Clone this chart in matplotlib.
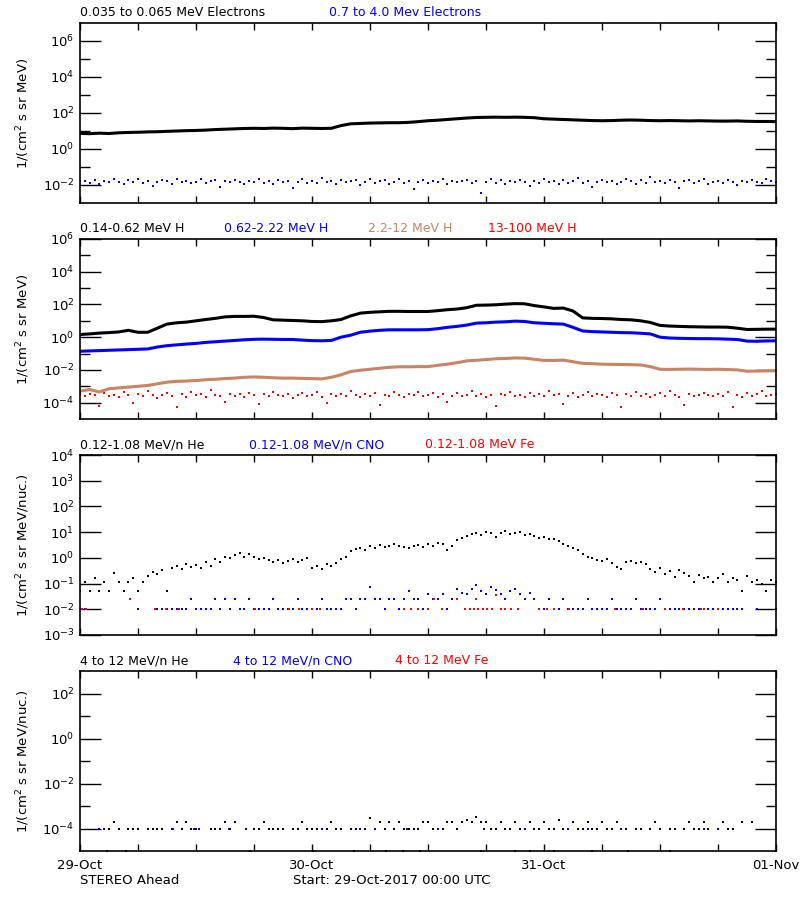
import numpy as np
import matplotlib.pyplot as plt
from matplotlib.ticker import FixedLocator, NullFormatter, NullLocator

nan = np.nan

# Tiempo en horas desde 29-Oct-2017 00:00 UTC
horas = np.arange(73)              # datos horarios
horas_media = np.arange(145) / 2.0  # datos cada media hora

# Panel 1: electrones (log10 del flujo)
elec_bajo = [0.87, 0.85, 0.88, 0.86, 0.90, 0.92, 0.93, 0.95, 0.96, 0.98, 1.00, 1.02,
             1.03, 1.05, 1.08, 1.10, 1.12, 1.14, 1.15, 1.14, 1.16, 1.15, 1.13, 1.16,
             1.15, 1.14, 1.15, 1.30, 1.40, 1.42, 1.44, 1.45, 1.46, 1.46, 1.48, 1.52,
             1.57, 1.60, 1.64, 1.68, 1.72, 1.75, 1.76, 1.77, 1.76, 1.77, 1.76, 1.74,
             1.68, 1.66, 1.64, 1.62, 1.60, 1.58, 1.57, 1.58, 1.60, 1.61, 1.60, 1.58,
             1.57, 1.58, 1.57, 1.56, 1.57, 1.56, 1.55, 1.55, 1.56, 1.54, 1.53, 1.53,
             1.52]
elec_alto = [-1.80, -1.75, -1.88, -1.70, -1.92, -1.78, -1.83, -1.65, -1.86, -1.95, -1.74, -1.81,
             -1.69, -1.90, -1.77, -2.05, -1.84, -1.72, -1.79, -1.93, -1.68, -1.85, -1.76, -1.89,
             -1.82, -1.64, -1.91, -1.80, -1.73, -2.10, -1.78, -1.86, -1.70, -1.84, -1.97, -1.75,
             -1.81, -1.66, -1.88, -1.79, -1.94, -1.72, -1.85, -1.77, -2.15, -1.83, -1.69, -1.87,
             -1.76, -1.90, -1.62, -1.82, -1.78, -1.95, -1.71, -1.86, -1.80, -1.74, -2.00, -1.83,
             -1.68, -1.88, -1.79, -1.73, -1.92, -1.81, -1.65, -1.87, -1.76, -2.20, -1.84, -1.70,
             -1.89, -1.78, -1.82, -1.67, -1.94, -1.75, -1.86, -1.80, -1.72, -1.91, -1.77, -2.45,
             -1.83, -1.69, -1.88, -1.74, -1.96, -1.79, -1.85, -1.71, -1.82, -2.08, -1.76, -1.90,
             -1.66, -1.84, -1.78, -1.93, -1.73, -1.87, -1.80, -1.62, -1.89, -1.75, -2.12, -1.81,
             -1.70, -1.86, -1.77, -1.92, -1.83, -1.68, -1.79, -1.95, -1.74, -1.88, -1.58, -1.82,
             -1.76, -1.91, -1.71, -1.85, -2.18, -1.80, -1.73, -1.87, -1.78, -1.67, -1.93, -1.84,
             -1.75, -1.89, -1.70, -1.81, -1.98, -1.77, -1.86, -1.72, -1.83, -1.90, -1.64, -1.79,
             -1.85]

# Panel 2: protones
h_014 = [0.16, 0.20, 0.25, 0.28, 0.32, 0.42, 0.30, 0.30, 0.55, 0.80, 0.88, 0.92,
         1.00, 1.08, 1.15, 1.24, 1.27, 1.27, 1.28, 1.20, 1.06, 1.04, 1.02, 1.00,
         0.96, 0.95, 1.00, 1.08, 1.30, 1.47, 1.52, 1.55, 1.58, 1.58, 1.57, 1.57,
         1.57, 1.62, 1.68, 1.72, 1.80, 1.95, 1.96, 1.98, 2.02, 2.05, 2.04, 1.93,
         1.85, 1.76, 1.78, 1.60, 1.18, 1.15, 1.14, 1.12, 1.08, 1.06, 1.00, 0.90,
         0.72, 0.68, 0.66, 0.64, 0.63, 0.62, 0.62, 0.61, 0.55, 0.47, 0.48, 0.49,
         0.49]
h_062 = [-0.86, -0.84, -0.82, -0.80, -0.78, -0.76, -0.74, -0.72, -0.60, -0.52, -0.47, -0.42,
         -0.38, -0.32, -0.28, -0.24, -0.20, -0.16, -0.13, -0.12, -0.13, -0.14, -0.14, -0.18,
         -0.21, -0.22, -0.20, 0.00, 0.12, 0.30, 0.37, 0.42, 0.45, 0.45, 0.45, 0.45,
         0.46, 0.52, 0.60, 0.66, 0.74, 0.86, 0.88, 0.92, 0.94, 0.98, 0.96, 0.88,
         0.85, 0.82, 0.80, 0.60, 0.38, 0.34, 0.32, 0.30, 0.28, 0.27, 0.24, 0.20,
         0.00, -0.05, -0.07, -0.08, -0.09, -0.09, -0.10, -0.12, -0.14, -0.24, -0.25, -0.23,
         -0.22]
h_22 = [-3.30, -3.20, -3.35, -3.15, -3.10, -3.05, -3.00, -2.95, -2.85, -2.75, -2.70, -2.68,
        -2.65, -2.60, -2.57, -2.53, -2.50, -2.45, -2.43, -2.45, -2.48, -2.50, -2.50, -2.52,
        -2.53, -2.55, -2.45, -2.30, -2.10, -2.02, -1.96, -1.90, -1.84, -1.81, -1.81, -1.80,
        -1.80, -1.72, -1.65, -1.56, -1.45, -1.41, -1.37, -1.32, -1.30, -1.27, -1.28, -1.35,
        -1.42, -1.42, -1.40, -1.50, -1.60, -1.62, -1.65, -1.66, -1.67, -1.68, -1.70, -1.80,
        -1.96, -1.97, -1.96, -1.95, -1.96, -1.97, -1.96, -1.98, -2.00, -2.08, -2.07, -2.06,
        -2.05]
h_13 = [-3.50, -3.62, -3.45, -3.55, -4.20, -3.40, -3.58, -3.52, -3.66, -3.35, -3.55, -4.00,
        -3.48, -3.60, -3.30, -3.56, -3.70, -3.52, -3.44, -3.58, -4.25, -3.50, -3.63, -3.38,
        -3.55, -3.47, -3.66, -3.25, -3.53, -3.60, -3.95, -3.45, -3.57, -3.50, -3.68, -3.40,
        -3.54, -4.10, -3.48, -3.62, -3.33, -3.55, -3.58, -3.46, -3.70, -3.52, -3.42, -3.60,
        -3.56, -3.36, -3.64, -4.05, -3.50, -3.57, -3.45, -3.62, -3.28, -3.54, -3.66, -3.49,
        -3.58, -3.43, -4.15, -3.55, -3.61, -3.38, -3.52, -3.67, -3.47, -3.56, -3.32, -3.60,
        -3.53, -3.44, -3.65, -3.50, -3.98, -3.57, -3.40, -3.62, -3.55, -3.30, -3.58, -3.48,
        -3.63, -3.52, -4.22, -3.45, -3.56, -3.36, -3.60, -3.54, -3.68, -3.42, -3.57, -3.50,
        -3.62, -3.27, -3.55, -3.47, -4.08, -3.58, -3.44, -3.64, -3.53, -3.38, -3.60, -3.49,
        -3.56, -3.66, -3.41, -3.55, -4.25, -3.50, -3.62, -3.35, -3.57, -3.46, -3.63, -3.52,
        -3.44, -3.58, -3.31, -3.55, -3.67, -4.12, -3.48, -3.60, -3.53, -3.40, -3.56, -3.62,
        -3.47, -3.58, -3.36, -4.28, -3.54, -3.65, -3.43, -3.57, -3.50, -3.30, -3.61, -3.55,
        -3.48]

# Panel 3: iones 0.12-1.08 MeV/n (cada media hora)
he_bajo = [-1.27, -0.95, -1.27, -0.80, -1.27, -0.95, -1.27, -0.60, -0.95, -1.27, -0.95, -0.80,
           -1.27, -0.95, -0.70, -0.55, -0.62, -0.48, -1.27, -0.40, -0.30, -0.45, -0.22, -0.35,
           -0.28, -0.40, -0.18, -0.30, -0.05, -0.15, 0.05, -0.02, 0.12, 0.18, 0.05, 0.15,
           0.02, -0.05, 0.00, -0.10, -0.15, -0.08, -0.20, -0.12, -0.05, -0.15, -0.10, -0.02,
           -0.40, -0.30, -0.45, -0.25, -0.30, -0.20, -0.05, 0.05, 0.25, 0.35, 0.38, 0.32,
           0.45, 0.40, 0.50, 0.42, 0.46, 0.52, 0.48, 0.42, 0.40, 0.47, 0.50, 0.44,
           0.55, 0.48, 0.58, 0.52, 0.32, 0.45, 0.70, 0.78, 0.85, 0.92, 0.98, 0.90,
           1.02, 0.95, 0.80, 0.98, 1.05, 0.92, 0.96, 1.00, 0.88, 0.94, 0.85, 0.78,
           0.82, 0.75, 0.72, 0.66, 0.55, 0.48, 0.40, 0.30, 0.15, 0.05, 0.00, -0.08,
           -0.12, -0.05, -0.20, -0.35, -0.45, -0.18, -0.12, -0.20, -0.15, -0.25, -0.45, -0.55,
           -0.40, -0.62, -0.50, -0.75, -0.48, -0.60, -0.70, -0.95, -0.65, -0.80, -0.75, -0.95,
           -0.80, -0.62, -0.92, -0.78, -0.85, -1.27, -0.72, -0.95, -0.88, -1.00, -1.27, -0.85,
           -0.95]
cno_bajo = [-2.0, -2.0, nan, nan, nan, nan, nan, nan, nan, nan, nan, nan,
            -2.0, nan, nan, nan, -2.0, -2.0, -2.0, -2.0, -2.0, -2.0, -2.0, -1.6,
            -2.0, -2.0, -2.0, -2.0, -1.6, -2.0, -1.6, -2.0, -1.6, -2.0, -2.0, -1.6,
            -2.0, -2.0, -2.0, -2.0, -1.6, -2.0, -2.0, -2.0, -2.0, -1.6, -2.0, -2.0,
            -2.0, -2.0, -1.6, -2.0, -2.0, -2.0, -2.0, -1.6, -1.6, -2.0, -1.6, -1.6,
            -1.15, -1.6, -1.6, -2.0, -1.6, -1.6, -2.0, -1.6, -1.3, -1.6, -1.6, -2.0,
            -1.4, -1.6, -1.6, -1.4, -2.0, -1.6, -1.2, -1.35, -1.4, -1.2, -1.05, -1.3,
            -1.4, -1.15, -1.25, -1.4, -1.6, -1.3, -1.2, -1.4, -1.6, -1.35, -1.6, -2.0,
            -2.0, -1.6, -2.0, -2.0, -1.6, -2.0, -2.0, -2.0, -2.0, -1.6, -2.0, -2.0,
            -2.0, -2.0, -1.6, -2.0, -2.0, -2.0, -2.0, -1.6, -2.0, -2.0, -2.0, -2.0,
            -1.6, -2.0, -2.0, -2.0, -2.0, -2.0, -2.0, -2.0, -2.0, -2.0, -2.0, -2.0,
            -2.0, -2.0, -2.0, -2.0, -2.0, -2.0, nan, nan, -2.0, nan, nan, nan,
            -2.0]
fe_bajo_horas = [0.2, 0.6, 5.2, 7.8, 8.9, 10.2, 18.1, 21.6, 22.7, 24.0, 24.8, 33.5,
                 34.2, 35.0, 36.0, 36.6, 37.4, 39.0, 39.8, 40.3, 40.8, 41.0, 41.2, 41.7,
                 42.1, 42.6, 43.0, 43.5, 44.0, 44.6, 45.3, 47.5, 48.3, 49.0, 50.6, 55.3,
                 58.2, 60.5, 62.4, 64.2, 64.6, 66.0]
fe_bajo = [-2.0, -2.0, -1.6, -2.0, -2.0, -2.0, -2.0, -2.0, -2.0, -2.0, -2.0, -2.0,
           -2.0, -2.0, -2.0, -1.6, -2.0, -1.6, -2.0, -2.0, -2.0, -1.6, -2.0, -2.0,
           -2.0, -2.0, -1.45, -2.0, -2.0, -2.0, -2.0, -2.0, -2.0, -2.0, -2.0, -2.0,
           -2.0, -2.0, -2.0, -2.0, -2.0, -2.0]

# Panel 4: iones 4-12 MeV/n (cada media hora)
he_alto = [nan, nan, nan, nan, nan, nan, -4.0, -3.7, -4.0, nan, -4.0, -4.0,
           -4.0, nan, -4.0, -4.0, -4.0, -4.0, nan, -4.0, -3.7, -4.0, -3.7, -4.0,
           -4.0, nan, nan, -4.0, -4.0, -4.0, -3.7, -4.0, -3.7, nan, nan, nan,
           -4.0, -4.0, -3.7, -4.0, -4.0, -4.0, -4.0, nan, -4.0, -4.0, -3.7, -4.0,
           -4.0, -4.0, nan, -4.0, -3.7, -4.0, -4.0, nan, -4.0, -4.0, nan, -4.0,
           -3.55, -4.0, -3.7, -4.0, -3.7, -4.0, -3.7, -4.0, -4.0, -4.0, -4.0, -3.7,
           -3.7, -4.0, -4.0, -4.0, -3.7, -3.7, -4.0, -3.7, -3.6, -3.7, -3.5, -3.7,
           -3.7, -4.0, -4.0, -3.7, -4.0, -4.0, -3.7, -4.0, -4.0, -3.7, -4.0, -4.0,
           -3.7, -4.0, -4.0, -3.6, -4.0, -4.0, -3.7, -4.0, -4.0, -3.7, -4.0, -4.0,
           -3.7, -4.0, -4.0, -3.7, -4.0, -4.0, nan, -4.0, -4.0, nan, -4.0, -3.7,
           -4.0, nan, -4.0, -4.0, nan, -4.0, -3.7, -4.0, -4.0, -3.7, -4.0, nan,
           -4.0, -3.7, -4.0, -4.0, nan, -3.7, nan, -3.7, nan, nan, nan, nan,
           nan]
cno_alto_horas = [2.0, 2.5, 2.8, 4.8, 9.6, 11.8, 12.3, 15.4, 17.2, 17.6, 24.1, 25.0,
                  28.3, 29.0, 30.5, 31.7, 33.4, 33.8, 35.2, 37.0, 41.5, 41.8, 45.0, 46.0,
                  46.6, 49.0, 50.5, 52.5, 53.0, 56.0, 56.7, 61.0, 64.5, 66.0, 71.9]
cno_alto = [-4.0, -4.0, -5.0, -5.0, -4.0, -4.0, -4.0, -4.0, -4.0, -5.0, -5.0, -4.0,
            -5.0, -4.0, -4.0, -5.0, -5.0, -4.0, -5.0, -4.0, -5.0, -4.0, -5.0, -4.0,
            -5.0, -5.0, -4.0, -4.0, -5.0, -4.0, -5.0, -5.0, -4.0, -4.0, -5.0]

dias = ['29-Oct', '30-Oct', '31-Oct', '01-Nov']

azul = '#0000ff'
rojo = '#ff0000'
marron = '#c88464'


def preparar_eje(ax, ymin, ymax, mayores, menores, etiqueta):
    ax.set_yscale('log')
    ax.set_ylim(ymin, ymax)
    ax.set_xlim(0, 72)
    ax.yaxis.set_major_locator(FixedLocator(mayores))
    ax.yaxis.set_minor_locator(FixedLocator(menores))
    ax.yaxis.set_minor_formatter(NullFormatter())
    ax.tick_params(axis='y', which='major', direction='in', length=15, width=1,
                   right=True, labelsize=9.5, pad=4)
    ax.tick_params(axis='y', which='minor', direction='in', length=7, width=1, right=True)
    ax.set_xticks(np.arange(0, 73, 6))
    ax.xaxis.set_minor_locator(NullLocator())
    ax.tick_params(axis='x', direction='in', length=5, width=1, top=True,
                   labelbottom=False)
    for s in ax.spines.values():
        s.set_linewidth(1.2)
    ax.set_ylabel(etiqueta, fontsize=9.5)
    ax.yaxis.set_label_coords(-0.069, 0.5)


def titulos(y, textos):
    for x, texto, color in textos:
        fig.text(x / 800, 1 - y / 900, texto, color=color, fontsize=9, va='center', ha='left')


puntos = dict(marker='s', ms=1.8, mew=0, ls='none')

fig = plt.figure(figsize=(8, 9), dpi=100)

# Panel 1
ax1 = fig.add_axes([0.1, 1 - 203 / 900, 0.87, 0.2])
ax1.plot(horas, 10 ** np.array(elec_bajo), color='k', lw=2.2)
ax1.plot(horas_media, 10 ** np.array(elec_alto), color=azul, **puntos)
preparar_eje(ax1, 1e-3, 1e7, [1e-2, 1, 1e2, 1e4, 1e6], [1e-1, 1e1, 1e3, 1e5],
             '1/(cm$^2$ s sr MeV)')
titulos(13, [(80, '0.035 to 0.065 MeV Electrons', 'k'),
             (329, '0.7 to 4.0 Mev Electrons', azul)])

# Panel 2
ax2 = fig.add_axes([0.1, 1 - 419 / 900, 0.87, 0.2])
ax2.plot(horas_media, 10 ** np.array(h_13), color=rojo, **puntos)
ax2.plot(horas, 10 ** np.array(h_22), color=marron, lw=2.2)
ax2.plot(horas, 10 ** np.array(h_062), color=azul, lw=2.2)
ax2.plot(horas, 10 ** np.array(h_014), color='k', lw=2.2)
preparar_eje(ax2, 1e-5, 1e6, [1e-4, 1e-2, 1, 1e2, 1e4, 1e6], [1e-3, 1e-1, 1e1, 1e3, 1e5],
             '1/(cm$^2$ s sr MeV)')
titulos(229, [(80, '0.14-0.62 MeV H', 'k'),
              (224, '0.62-2.22 MeV H', azul),
              (368, '2.2-12 MeV H', marron),
              (488, '13-100 MeV H', rojo)])

# Panel 3
ax3 = fig.add_axes([0.1, 1 - 635 / 900, 0.87, 0.2])
ax3.plot(horas_media, 10 ** np.array(he_bajo), color='k', **puntos)
ax3.plot(horas_media, 10 ** np.array(cno_bajo), color=azul, **puntos)
ax3.plot(fe_bajo_horas, 10 ** np.array(fe_bajo), color=rojo, **puntos)
preparar_eje(ax3, 1e-3, 1e4, [1e-3, 1e-2, 1e-1, 1, 1e1, 1e2, 1e3, 1e4], [],
             '1/(cm$^2$ s sr MeV/nuc.)')
titulos(445, [(80, '0.12-1.08 MeV/n He', 'k'),
              (249, '0.12-1.08 MeV/n CNO', azul),
              (425, '0.12-1.08 MeV Fe', rojo)])

# Panel 4
ax4 = fig.add_axes([0.1, 1 - 851 / 900, 0.87, 0.2])
ax4.plot(horas_media, 10 ** np.array(he_alto), color='k', **puntos)
ax4.plot(cno_alto_horas, 10 ** np.array(cno_alto), color=azul, **puntos)
preparar_eje(ax4, 1e-5, 1e3, [1e-4, 1e-2, 1, 1e2], [1e-3, 1e-1, 1e1],
             '1/(cm$^2$ s sr MeV/nuc.)')
ax4.set_xticks(np.arange(0, 73, 6))
ax4.set_xticklabels([dias[i // 24] if i % 24 == 0 else '' for i in range(0, 73, 6)])
ax4.tick_params(axis='x', labelbottom=True, labelsize=9.5, pad=6)
titulos(661, [(80, '4 to 12 MeV/n He', 'k'),
              (233, '4 to 12 MeV/n CNO', azul),
              (395, '4 to 12 MeV Fe', rojo)])

fig.text(80 / 800, 1 - 881 / 900, 'STEREO Ahead', fontsize=9.5, va='center')
fig.text(293 / 800, 1 - 881 / 900, 'Start: 29-Oct-2017 00:00 UTC', fontsize=9.5, va='center')

fig.savefig('out.png', dpi=100)
